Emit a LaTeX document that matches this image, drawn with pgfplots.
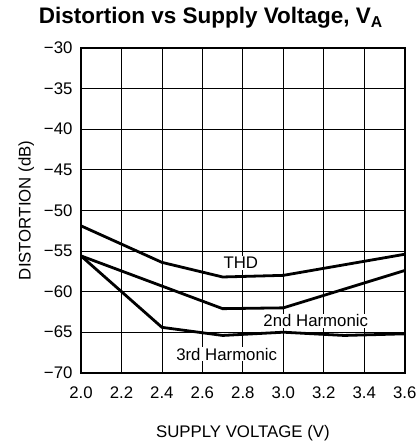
\documentclass[border=0pt]{standalone}
\usepackage{pgfplots}
\pgfplotsset{compat=1.18}
\usepackage{fontspec}
\setmainfont{Liberation Sans}
\begin{document}
\begin{tikzpicture}
\begin{axis}[
  at={(0,0)}, anchor=south west,
  scale only axis,
  width=324bp, height=325bp,
  xmin=2.0, xmax=3.6, ymin=-70, ymax=-30,
  xtick={2.0,2.2,...,3.6},
  xticklabels={2.0,2.2,2.4,2.6,2.8,3.0,3.2,3.4,3.6},
  ytick={-70,-65,...,-30},
  yticklabels={−70,−65,−60,−55,−50,−45,−40,−35,−30},
  grid=major,
  major grid style={black, line width=0.8bp},
  axis line style={black, line width=1.5bp},
  major tick length=0pt,
  tick label style={font=\fontsize{16.8bp}{19bp}\selectfont},
  xticklabel style={yshift=-10bp},
  yticklabel style={xshift=-5bp},
  label style={font=\fontsize{16.8bp}{19bp}\selectfont},
  xlabel={SUPPLY VOLTAGE (V)},
  ylabel={DISTORTION (dB)},
  xlabel style={yshift=-20bp},
  ylabel style={yshift=3bp},
  clip=false,
]
\addplot[black, line width=2.8bp] coordinates {(2.0,-51.9) (2.4,-56.4) (2.7,-58.2) (3.0,-58.0) (3.6,-55.4)};
\addplot[black, line width=2.8bp] coordinates {(2.0,-55.6) (2.7,-62.1) (3.0,-62.0) (3.6,-57.4)};
\addplot[black, line width=2.8bp] coordinates {(2.0,-55.6) (2.4,-64.4) (2.7,-65.4) (3.0,-65.0) (3.3,-65.4) (3.6,-65.2)};
\node[font=\fontsize{16.8bp}{19bp}\selectfont, fill=white, inner sep=1bp] at (axis cs:2.79,-56.5) {THD};
\node[font=\fontsize{16.8bp}{19bp}\selectfont, fill=white, inner sep=1bp] at (axis cs:3.16,-63.6) {2nd Harmonic};
\node[font=\fontsize{16.8bp}{19bp}\selectfont, fill=white, inner sep=0.5bp] at (axis cs:2.72,-67.7) {3rd Harmonic};
\node[anchor=base, font=\bfseries\fontsize{22.5bp}{26bp}\selectfont] at (rel axis cs:0.401,1) [yshift=24.5bp] {Distortion vs Supply Voltage, V\textsubscript{A}};
\end{axis}
\useasboundingbox (-81bp,-71bp) rectangle (338bp,373bp);
\end{tikzpicture}
\end{document}
